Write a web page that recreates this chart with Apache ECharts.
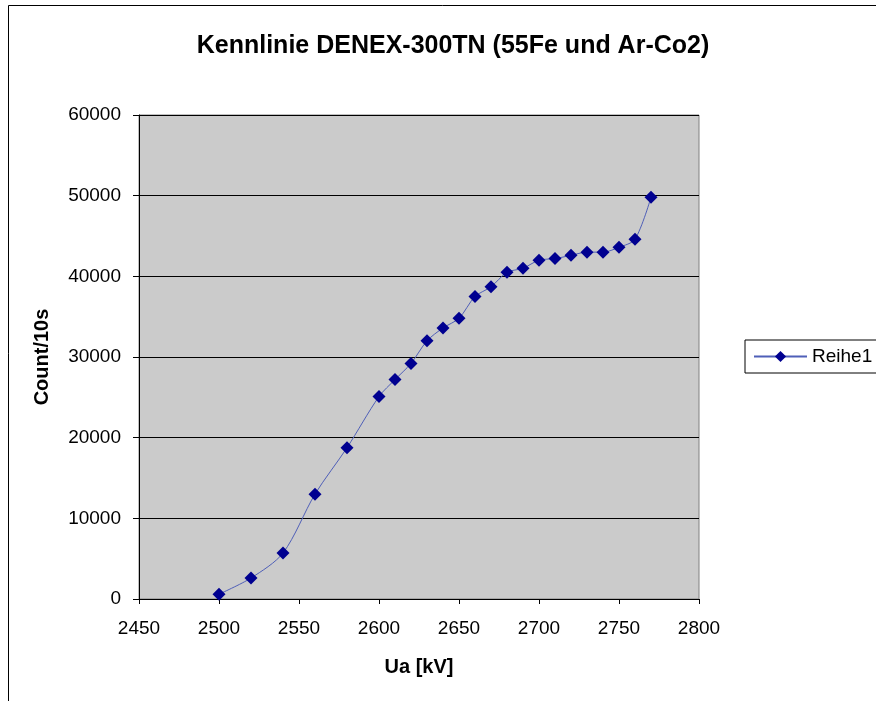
<!DOCTYPE html>
<html><head><meta charset="utf-8">
<script src="https://cdn.jsdelivr.net/npm/echarts@6/dist/echarts.min.js"></script>
<style>html,body{margin:0;padding:0;background:#fff}#c{width:876px;height:701px}</style>
</head><body><div id="c"></div>
<script>
const voltages = [2500,2520,2540,2560,2580,2600,2610,2620,2630,2640,2650,2660,2670,2680,2690,2700,2710,2720,2730,2740,2750,2760,2770];
const counts = [600,2600,5700,13000,18750,25100,27200,29200,32000,33600,34800,37500,38700,40500,41000,42000,42200,42600,43000,43000,43600,44600,49800];
const seriesName = 'Reihe1';
const titleText = 'Kennlinie DENEX-300TN (55Fe und Ar-Co2)';
const xName = 'Ua [kV]';
const yName = 'Count/10s';

const font = 'Liberation Sans, Arial, sans-serif';
const chart = echarts.init(document.getElementById('c'));
chart.setOption({
  animation: false,
  backgroundColor: '#fff',
  graphic: [{type:'rect', shape:{x:8.5,y:5.5,width:1000,height:1000}, style:{fill:'none',stroke:'#000',lineWidth:1}, z:-1}],
  title: {text: titleText, left: 448, textAlign:'center', top: 29,
    textStyle:{fontFamily:font,fontSize:25,fontWeight:'bold',color:'#000'}},
  legend: {data:[seriesName], left: 745, top: 340, orient:'vertical',
    borderColor:'#000', borderWidth:1, padding:[7,60,7,8], itemWidth:53, itemHeight:14, itemGap:0,
    textStyle:{fontFamily:font,fontSize:19,color:'#000'}},
  grid: {left:139, right:177, top:115, bottom:102, show:true, backgroundColor:'#CBCBCB', borderColor:'#808080', borderWidth:1},
  xAxis: {type:'value', min:2450, max:2800, interval:50, name:xName, nameLocation:'middle', nameGap:58,
    nameTextStyle:{fontFamily:font,fontSize:20,fontWeight:'bold',color:'#000'},
    axisLine:{show:true,onZero:false,lineStyle:{color:'#000',width:1}},
    axisTick:{show:true,length:5,inside:false,lineStyle:{color:'#000'}},
    axisLabel:{fontFamily:font,fontSize:19,color:'#000',margin:20, formatter: v => String(v)},
    splitLine:{show:false}},
  yAxis: {type:'value', min:0, max:60000, interval:10000, name:yName, nameLocation:'middle', nameGap:87, nameRotate:90,
    nameTextStyle:{fontFamily:font,fontSize:20,fontWeight:'bold',color:'#000'},
    axisLine:{show:true,lineStyle:{color:'#000',width:1}},
    axisTick:{show:true,length:6,lineStyle:{color:'#000'}},
    axisLabel:{fontFamily:font,fontSize:19,color:'#000',margin:18, formatter: v => String(v)},
    splitLine:{show:true,lineStyle:{color:'#000',width:1}}},
  series: [{name:seriesName, type:'line', smooth:0.3,
    data: voltages.map((v,i)=>[v,counts[i]]),
    symbol:'diamond', symbolSize:13, showAllSymbol:true,
    lineStyle:{color:'#4f5fb8',width:1},
    itemStyle:{color:'#000090',borderWidth:0}}]
});
</script></body></html>
